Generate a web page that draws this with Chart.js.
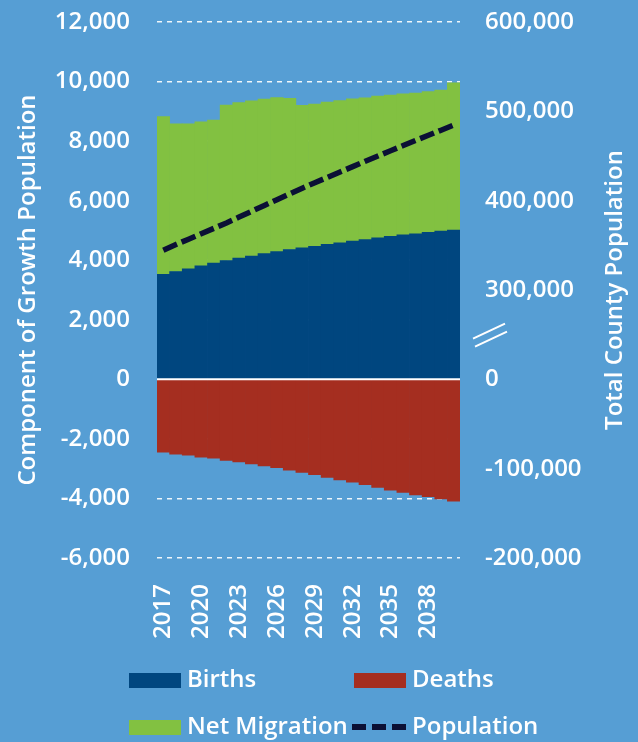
<!DOCTYPE html>
<html lang="en">
<head>
<meta charset="UTF-8">
<title>County Population Components of Growth</title>
<script src="https://cdn.jsdelivr.net/npm/chart.js"></script>
<style>
  html, body { margin: 0; padding: 0; background: #569ed4; }
  #wrap { width: 638px; height: 742px; position: relative; }
</style>
</head>
<body>
<div id="wrap"><canvas id="growthChart"></canvas></div>
<script>
// Components of growth per year (persons) and total county population
const years = [2017, 2018, 2019, 2020, 2021, 2022, 2023, 2024, 2025, 2026, 2027, 2028,
               2029, 2030, 2031, 2032, 2033, 2034, 2035, 2036, 2037, 2038, 2039, 2040];
const births = [3530, 3620, 3710, 3810, 3900, 3990, 4070, 4140, 4220, 4290, 4360, 4420,
                4470, 4530, 4580, 4640, 4690, 4750, 4800, 4850, 4890, 4940, 4980, 5010];
const deaths = [-2450, -2510, -2550, -2610, -2650, -2720, -2770, -2840, -2910, -2970, -3050, -3130,
                -3200, -3290, -3380, -3450, -3540, -3630, -3720, -3800, -3880, -3940, -4020, -4090];
const netMigration = [5290, 4960, 4870, 4840, 4810, 5220, 5220, 5210, 5190, 5170, 5080, 4780,
                      4770, 4780, 4780, 4780, 4760, 4760, 4750, 4740, 4720, 4720, 4730, 4950];
const population = [344500, 350900, 356900, 363000, 369000, 375100, 381600, 388100, 394600, 401100, 407600, 414000,
                    420100, 426100, 432100, 438100, 444100, 450000, 455900, 461700, 467500, 473200, 478900, 484600];

const growthTicks = [-6000, -4000, -2000, 0, 2000, 4000, 6000, 8000, 10000, 12000];
const populationTicks = [-200000, -100000, 0, 300000, 400000, 500000, 600000];

// right axis is broken between 0 and 300,000: above the break it is offset by 200,000
const POP_OFFSET = 200000;
const POP_RATIO = 0.03; // growth units per person
function popToAxis(p) {
  return p > 0 ? (p - POP_OFFSET) * POP_RATIO : p * POP_RATIO;
}
function axisToPop(v) {
  return v > 0 ? Math.round(v / POP_RATIO + POP_OFFSET) : Math.round(v / POP_RATIO);
}

const COLORS = {
  births: '#00467f',
  deaths: '#a52e20',
  migration: '#82c141',
  population: '#0b1035',
  text: '#ffffff'
};
const FONT = '"Open Sans", "DejaVu Sans", sans-serif';

// fixed box sizes so the plot area sits where it should
function fixWidth(w) {
  return s => { s.width = w; s.paddingTop = 0; s.paddingBottom = 0; };
}

// zero line, axis break, rotated axis titles and the two-column legend
const extrasPlugin = {
  id: 'extras',
  afterDatasetsDraw(chart) {
    const { ctx, chartArea, scales } = chart;
    const y0 = scales.y.getPixelForValue(0);
    ctx.save();
    ctx.strokeStyle = '#ffffff';
    ctx.lineWidth = 2;
    ctx.beginPath();
    ctx.moveTo(chartArea.left, y0);
    ctx.lineTo(chartArea.right, y0);
    ctx.stroke();
    ctx.restore();
  },
  afterDraw(chart) {
    const { ctx, chartArea, scales } = chart;
    ctx.save();

    // break marks on the population axis
    const yb = scales.y2.getPixelForValue(1500);
    const xb = chartArea.right + 13;
    ctx.strokeStyle = '#ffffff';
    ctx.lineWidth = 2;
    ctx.beginPath();
    ctx.moveTo(xb, yb + 4); ctx.lineTo(xb + 32, yb - 11);
    ctx.moveTo(xb + 2, yb + 12); ctx.lineTo(xb + 34, yb - 3);
    ctx.stroke();

    // axis titles
    const midY = (chartArea.top + chartArea.bottom) / 2;
    ctx.fillStyle = COLORS.text;
    ctx.font = '600 24px ' + FONT;
    ctx.textAlign = 'center';
    ctx.textBaseline = 'middle';
    [[28, 'Component of Growth Population'], [615, 'Total County Population']].forEach(([x, label]) => {
      ctx.save();
      ctx.translate(x, midY);
      ctx.rotate(-Math.PI / 2);
      ctx.fillText(label, 0, 0);
      ctx.restore();
    });

    // legend
    const items = [
      { label: 'Births', color: COLORS.births, x: 129, y: 680 },
      { label: 'Deaths', color: COLORS.deaths, x: 354, y: 680 },
      { label: 'Net Migration', color: COLORS.migration, x: 129, y: 727 },
      { label: 'Population', color: COLORS.population, x: 352, y: 727, dashed: true }
    ];
    ctx.font = '600 24px ' + FONT;
    ctx.textAlign = 'left';
    items.forEach(it => {
      if (it.dashed) {
        ctx.strokeStyle = it.color;
        ctx.lineWidth = 6;
        ctx.setLineDash([14, 6]);
        ctx.beginPath();
        ctx.moveTo(it.x, it.y);
        ctx.lineTo(it.x + 56, it.y);
        ctx.stroke();
        ctx.setLineDash([]);
      } else {
        ctx.fillStyle = it.color;
        ctx.fillRect(it.x, it.y - 7, 52, 15);
      }
      ctx.fillStyle = COLORS.text;
      ctx.fillText(it.label, it.x + (it.dashed ? 60 : 58), it.y);
    });
    ctx.restore();
  }
};

const ctx = document.getElementById('growthChart').getContext('2d');
new Chart(ctx, {
  type: 'bar',
  data: {
    labels: years,
    datasets: [
      { label: 'Births', data: births, backgroundColor: COLORS.births, order: 1 },
      { label: 'Deaths', data: deaths, backgroundColor: COLORS.deaths, order: 1 },
      { label: 'Net Migration', data: netMigration, backgroundColor: COLORS.migration, order: 1 },
      {
        type: 'line',
        label: 'Population',
        data: population.map(popToAxis),
        yAxisID: 'y2',
        borderColor: COLORS.population,
        borderWidth: 5.5,
        borderDash: [15, 5],
        pointRadius: 0,
        fill: false,
        order: 0
      }
    ]
  },
  options: {
    responsive: true,
    maintainAspectRatio: false,
    animation: false,
    events: [],
    datasets: {
      bar: { barPercentage: 1, categoryPercentage: 1, borderWidth: 0 }
    },
    layout: { padding: { top: 22, left: 0, right: 0, bottom: 0 } },
    plugins: {
      legend: { display: false },
      tooltip: { enabled: false }
    },
    scales: {
      x: {
        stacked: true,
        grid: { display: false },
        border: { display: false },
        ticks: {
          autoSkip: false,
          minRotation: 90,
          maxRotation: 90,
          padding: 18,
          color: COLORS.text,
          font: { family: FONT, size: 24, weight: '600' },
          callback: (v, i) => (i % 3 === 0 ? String(years[i]) : '')
        },
        afterFit: s => { s.height = 184; s.paddingLeft = 0; s.paddingRight = 0; }
      },
      y: {
        stacked: true,
        position: 'left',
        min: -6000,
        max: 12000,
        afterBuildTicks: s => { s.ticks = growthTicks.map(v => ({ value: v })); },
        grid: { color: 'rgba(255,255,255,0.9)', lineWidth: 1.5, drawTicks: false },
        border: { display: false, dash: [5, 5] },
        ticks: {
          padding: 27,
          color: COLORS.text,
          font: { family: FONT, size: 24, weight: '600' },
          callback: v => v.toLocaleString('en-US')
        },
        afterFit: fixWidth(157)
      },
      y2: {
        position: 'right',
        min: -6000,
        max: 12000,
        afterBuildTicks: s => { s.ticks = populationTicks.map(p => ({ value: popToAxis(p) })); },
        grid: { display: false, drawTicks: false },
        border: { display: false },
        ticks: {
          padding: 25,
          color: COLORS.text,
          font: { family: FONT, size: 24, weight: '600' },
          callback: v => axisToPop(v).toLocaleString('en-US')
        },
        afterFit: fixWidth(178)
      }
    }
  },
  plugins: [extrasPlugin]
});
</script>
</body>
</html>
